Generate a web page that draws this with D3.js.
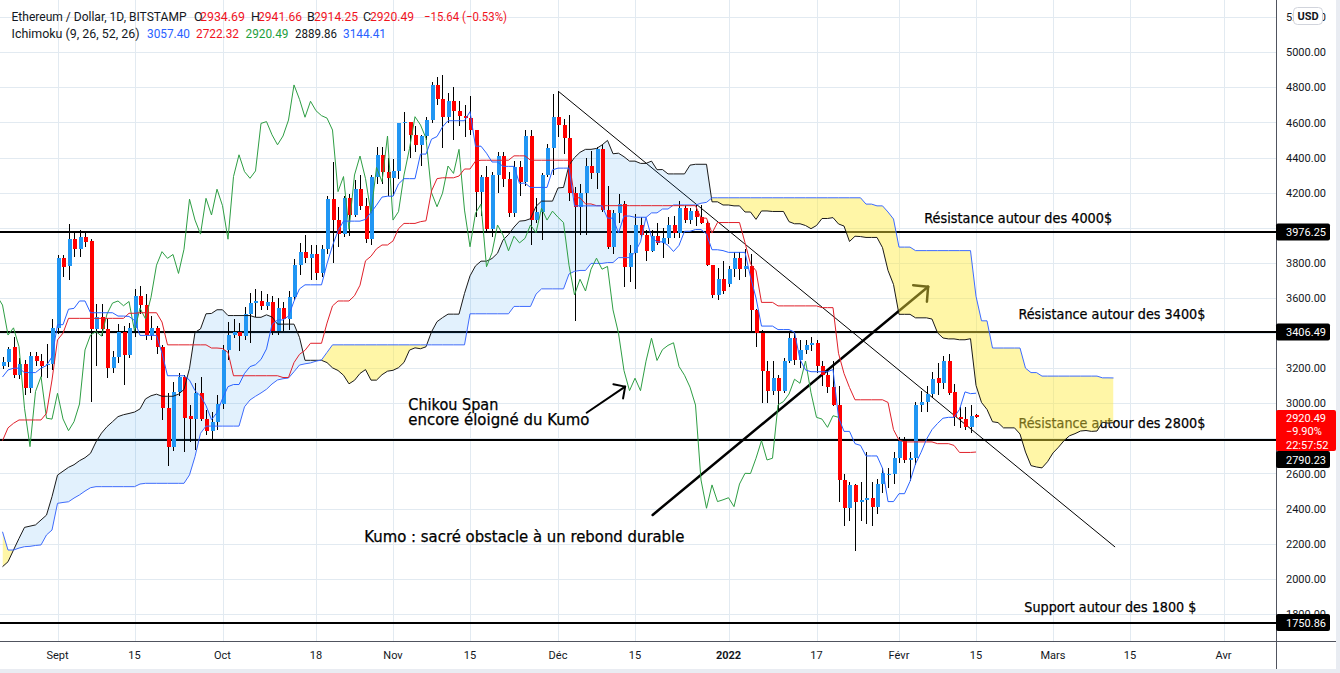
<!DOCTYPE html>
<html>
<head>
<meta charset="UTF-8">
<title>Ethereum / Dollar - Ichimoku</title>
<script src="https://cdn.jsdelivr.net/npm/d3@7"></script>
<style>
  body { margin: 0; background: #fff; }
  svg { display: block; }
  .ax { font-family: Roboto, "Liberation Sans", sans-serif; font-size: 11px; fill: #131722; }
  .hdr { font-family: Roboto, "Liberation Sans", sans-serif; font-size: 12.5px; }
  .note { font-family: "DejaVu Sans", sans-serif; fill: #000; stroke: #000; stroke-width: 0.25px; }
</style>
</head>
<body>
<svg id="chart" width="1340" height="673"></svg>
<script>
// ---------- data (daily, starting at firstDay) ----------
var firstDay = "2021-08-22";

var opens = [3215,3235,3318,3161,3224,3085,3268,3240,3222,3226,
  3430,3828,3784,3935,3880,3950,3925,3422,3494,3425,
  3200,3262,3405,3275,3427,3611,3560,3389,3430,3323,
  2972,2753,3067,3152,2925,2910,3057,2911,2844,2895,
  2996,3304,3389,3409,3383,3509,3571,3583,3556,3580,
  3412,3542,3481,3604,3787,3864,3826,3848,3740,3878,
  4163,4044,3964,4168,4073,4220,4126,3935,4292,4416,4320,
  4282,4324,4595,4605,4530,4473,4523,4614,4814,4732,
  4630,4721,4667,4639,4625,4557,4206,4292,3991,4301,
  4409,4280,4083,4344,4263,4523,4044,4092,4301,4452,
  4633,4586,4510,4200,4120,4197,4352,4310,4447,4101,
  3892,4083,4135,3778,3858,4016,3959,3869,3952,3914,
  3940,4016,3972,4111,4044,4095,4060,4030,3787,3618,3707,
  3680,3764,3827,3764,3780,3532,3399,3186,3072,3143,
  3072,3240,3371,3244,3306,3330,3345,3210,3160,3092,
  2990,2563,2402,2535,2440,2450,2462,2411,2540,2590,2600,
  2687,2787,2677,2687,2991,3010,3053,3146,3114,3241,
  3066,2920,2910,2863,2934.69];

var highs = [3265,3323,3380,3258,3247,3290,3290,3282,3340,3480,
  3846,3846,4022,3975,3985,3980,3935,3566,3566,3480,
  3300,3450,3440,3460,3650,3670,3620,3500,3440,3330,
  3057,3120,3170,3160,2990,3116,3150,2960,2950,3050,
  3330,3465,3480,3460,3550,3628,3650,3640,3620,3610,
  3600,3580,3640,3820,3914,3960,3900,3900,3900,4180,
  4377,4120,4180,4190,4270,4300,4170,4300,4460,4460,4400,
  4390,4600,4660,4605,4580,4530,4630,4830,4860,4871,
  4770,4800,4720,4700,4750,4557,4300,4350,4320,4430,
  4430,4320,4380,4380,4560,4560,4170,4310,4480,4760,
  4780,4620,4640,4230,4250,4400,4440,4460,4470,4240,
  4100,4190,4150,3900,4080,4060,3990,3990,4030,4000,
  4060,4070,4150,4130,4110,4130,4130,4040,3790,3770,3810,
  3780,3860,3860,3880,3850,3540,3420,3240,3240,3160,
  3260,3400,3400,3360,3360,3380,3360,3240,3190,3240,
  3100,2600,2550,2540,2550,2720,2550,2570,2630,2630,2720,
  2810,2810,2720,3010,3070,3100,3180,3230,3270,3281,
  3110,2980,2980,2990,2941.66];

var lows = [3195,3208,3144,3138,3050,3060,3210,3150,3144,3190,
  3395,3720,3703,3833,3833,3890,3009,3214,3383,3144,
  3170,3230,3104,3260,3380,3510,3360,3360,3280,2905,
  2644,2730,3040,2724,2780,2734,2900,2820,2790,2850,
  2970,3247,3370,3300,3360,3344,3490,3530,3530,3390,
  3390,3410,3420,3590,3730,3800,3700,3700,3720,3850,
  3798,3890,3950,3955,4060,4100,3915,3900,4250,4250,4180,
  4180,4280,4440,4400,4430,4350,4500,4600,4700,4454,
  4600,4500,4580,4520,4530,4060,4070,3980,3950,4200,
  4230,4060,4060,4180,4240,3900,4030,3930,4290,4300,
  4520,4420,4150,3471,3960,3960,4280,4220,4090,3880,
  3850,4030,3665,3690,3650,3940,3810,3860,3900,3830,
  3910,3940,3940,4030,4020,4010,4020,3780,3600,3590,3620,
  3660,3720,3700,3720,3400,3320,3000,3000,3050,2960,
  3060,3230,3220,3200,3280,3300,3170,3100,3060,2985,
  2440,2300,2330,2160,2330,2310,2300,2370,2490,2520,2540,
  2660,2660,2560,2650,2950,2950,3030,3050,3080,3050,
  2870,2860,2850,2830,2914.25];

var closes = [3238,3308,3161,3224,3085,3270,3240,3215,3226,3430,
  3828,3778,3935,3878,3950,3921,3422,3494,3425,3200,
  3262,3405,3275,3427,3611,3560,3389,3430,3323,2972,
  2753,3067,3152,2915,2910,3057,2911,2844,2895,2996,
  3304,3389,3409,3383,3509,3571,3583,3556,3580,3412,
  3542,3481,3604,3787,3864,3826,3848,3740,3878,4163,
  4044,3964,4168,4073,4220,4126,3935,4292,4416,4320,4282,
  4324,4595,4605,4530,4473,4523,4614,4814,4732,4630,
  4721,4667,4639,4625,4557,4206,4292,3991,4301,4409,
  4280,4083,4344,4263,4523,4044,4092,4301,4452,4633,
  4586,4510,4200,4120,4197,4352,4310,4447,4101,3892,
  4083,4135,3778,3858,4016,3959,3869,3952,3914,3940,
  4016,3972,4111,4044,4095,4060,4030,3787,3618,3707,3640,
  3764,3827,3764,3780,3532,3399,3186,3072,3143,3072,
  3240,3371,3244,3306,3330,3345,3210,3160,3092,2990,
  2563,2402,2535,2440,2450,2462,2411,2540,2601,2600,2687,
  2787,2677,2687,2991,3010,3053,3137,3114,3241,3060,
  2920,2910,2863,2929,2920.49];

// Ichimoku conversion (tenkan) and base (kijun) lines, same days as the candles
var tenkan = [3150,3190,3200,3200,3175,3175,3175,3200,3215,3265,
  3448,3448,3536,3541,3583,3583,3516,3516,3516,3516,
  3516,3497,3497,3495,3472,3387,3387,3387,3387,3287,
  3157,3157,3157,3157,3132,3072,3042,2987,2907,2947,
  3027,3095,3107,3107,3170,3209,3220,3250,3310,3449,
  3475,3475,3497,3582,3652,3675,3675,3675,3675,3795,
  3898,3983,4038,4038,4038,4038,4048,4087,4129,4175,
  4180,4180,4250,4280,4280,4280,4420,4420,4505,4520,
  4575,4610,4610,4610,4610,4662,4465,4465,4425,4375,
  4375,4350,4350,4350,4253,4255,4230,4230,4230,4230,
  4330,4340,4340,4340,4125,4125,4125,4125,4125,4125,
  4055,4055,3970,4067,4067,4060,4060,4060,3945,3920,
  3920,3900,3865,3900,3980,3980,3990,3990,3965,3875,
  3875,3870,3860,3860,3860,3860,3720,3600,3440,3440,
  3440,3420,3420,3420,3405,3250,3190,3180,3180,3180,
  3180,3192,2920,2840,2840,2770,2760,2700,2700,2700,
  2630,2440,2440,2485,2485,2555,2655,2720,2795,2850,
  2885,2915,2920,2920,2965,3065,3055,3057.40];

var kijun = [2787,2860,2886,2905,2905,2905,2905,2905,2943,3133,
  3361,3400,3484,3484,3484,3484,3484,3484,3484,3484,
  3484,3484,3484,3513,3513,3516,3516,3516,3516,3463,
  3333,3333,3333,3333,3333,3333,3333,3333,3315,3315,
  3312,3290,3157,3157,3157,3157,3157,3157,3157,3157,
  3157,3147,3147,3232,3279,3302,3342,3342,3342,3457,
  3555,3583,3583,3583,3613,3673,3812,3838,3880,3902,
  3902,3925,3995,4025,4025,4025,4035,4040,4210,4280,
  4285,4285,4285,4295,4335,4335,4380,4385,4385,4385,
  4385,4385,4385,4410,4410,4410,4385,4385,4385,4385,
  4385,4385,4385,4385,4171,4171,4136,4136,4126,4126,
  4126,4126,4126,4126,4126,4126,4126,4126,4126,4126,
  4126,4126,4126,4126,4126,4126,4126,4055,4055,3970,
  4030,4030,4030,4030,4030,3915,3795,3755,3575,3575,
  3575,3555,3555,3555,3555,3555,3555,3555,3555,3545,
  3545,3545,3285,3170,3090,3020,3020,3020,3020,3020,
  3020,3005,2850,2790,2780,2780,2780,2780,2780,2780,
  2770,2770,2770,2760,2720,2720,2720,2722.32];

// leading spans (kumo), from firstDay to 25 days past the last candle
var spanA = [2069,2097,2164,2230,2293,2300,2307,2335,2363,2468,
  2591,2613,2635,2650,2673,2690,2715,2780,2830,2867,
  2895,2924,2935,2942,2950,2968,3025,3043,3052,3040,
  3040,3040,3052,3079,3199,3404,3424,3510,3512,3533,
  3533,3500,3500,3500,3500,3500,3490,3490,3504,3492,
  3451,3451,3451,3451,3375,3245,3245,3245,3245,3232,
  3202,3187,3160,3111,3131,3170,3192,3132,3132,3163,
  3183,3188,3203,3233,3303,3316,3311,3322,3407,3465,
  3488,3508,3508,3508,3626,3726,3783,3810,3810,3825,
  3855,3930,3962,4004,4038,4041,4052,4122,4152,4152,
  4152,4227,4230,4357,4400,4430,4447,4447,4452,4472,
  4498,4422,4425,4405,4380,4380,4367,4367,4380,4331,
  4332,4307,4307,4307,4307,4357,4362,4362,4362,4148,
  4148,4130,4130,4125,4125,4090,4090,4048,4096,4096,
  4093,4093,4093,4035,4023,4023,4013,3995,4013,4053,
  4053,4058,4022,4010,3922,3952,3950,3945,3945,3945,
  3887,3757,3677,3507,3507,3507,3487,3487,3487,3480,
  3402,3372,3367,3367,3362,3362,3368,3102,3005,2965,
  2895,2890,2860,2860,2860,2825,2722,2645,2637,2632,
  2667,2717,2750,2787,2815,2827,2842,2845,2840,2842,
  2892,2887,2889.86];

var spanB = [2268,2164,2164,2175,2183,2185,2190,2193,2250,2278,
  2430,2435,2439,2460,2478,2500,2519,2525,2525,2525,
  2525,2525,2525,2525,2525,2540,2544,2544,2544,2544,
  2544,2544,2544,2544,2592,2696,2829,2870,2870,2870,
  2870,2870,2870,2870,2980,3019,3040,3059,3080,3110,
  3133,3140,3144,3180,3218,3225,3230,3240,3247,3290,
  3333,3333,3333,3333,3333,3333,3333,3333,3333,3333,
  3333,3333,3333,3333,3333,3333,3333,3333,3333,3333,
  3333,3333,3333,3333,3333,3510,3510,3510,3510,3510,
  3510,3510,3510,3552,3552,3552,3552,3622,3652,3652,
  3652,3652,3652,3737,3752,3757,3757,3797,3797,3797,
  3802,3802,3830,3830,3830,3860,3920,4059,4085,4085,
  4107,4107,4130,4130,4130,4130,4130,4140,4145,4171,
  4171,4171,4171,4171,4171,4171,4171,4171,4171,4171,
  4171,4171,4171,4171,4171,4171,4171,4171,4171,4171,
  4171,4171,4171,4171,4171,4171,4171,4135,4135,4125,
  4125,4090,4050,3890,3890,3890,3870,3870,3870,3870,
  3870,3870,3870,3870,3870,3870,3870,3610,3470,3470,
  3315,3315,3315,3315,3315,3315,3200,3175,3175,3155,
  3155,3155,3155,3155,3155,3155,3155,3155,3155,3155,
  3145,3145,3144.41];

var lagDays = 25;                     // chikou span is drawn back this many days
var levels = [3976.25, 3406.49, 2790.23, 1750.86];
var priceTicks = [1800,2000,2200,2400,2600,2800,3000,3200,3400,3600,3800,4000,4200,4400,4600,4800,5000,5200];
var timeTicks = ["2021-09-01","2021-09-15","2021-10-01","2021-10-18","2021-11-01","2021-11-15",
  "2021-12-01","2021-12-15","2022-01-01","2022-01-17","2022-02-01","2022-02-15",
  "2022-03-01","2022-03-15","2022-04-01"];
var timeLabels = ["Sept","15","Oct","18","Nov","15","Déc","15","2022","17","Févr","15","Mars","15","Avr"];

// ---------- setup ----------
var W = 1340, H = 673, plotR = 1276, plotB = 641;
var DAY = 864e5;
var iso = d3.isoParse;
var t0 = iso(firstDay);
function dayAt(i) { return new Date(+t0 + i * DAY); }

var x = d3.scaleUtc().domain([iso("2021-09-01"), iso("2022-04-01")]).range([57.5, 1223.5]);
var y = d3.scaleLinear().domain([2000, 5000]).range([578.8, 52.3]);

var candles = opens.map(function(o, i) {
  return {date: dayAt(i), o: o, h: highs[i], l: lows[i], c: closes[i]};
});
var cloud = spanA.map(function(a, i) { return {date: dayAt(i), a: a, b: spanB[i]}; });
function series(arr, shift) {
  return arr.map(function(v, i) { return {date: dayAt(i + (shift || 0)), v: v}; });
}

var svg = d3.select("#chart");
svg.append("rect").attr("width", W).attr("height", H).attr("fill", "#fff");
svg.append("rect").attr("x", 1336).attr("width", 4).attr("height", H).attr("fill", "#e9ecf2");
svg.append("rect").attr("y", 669).attr("width", W).attr("height", 4).attr("fill", "#e9ecf2");

var defs = svg.append("defs");
defs.append("clipPath").attr("id", "plot").append("rect").attr("width", plotR).attr("height", plotB);

var plot = svg.append("g").attr("clip-path", "url(#plot)");

// grid
var gridColor = "#e2eaf1";
plot.append("g").selectAll("line").data(priceTicks).join("line")
  .attr("x1", 0).attr("x2", plotR)
  .attr("y1", function(d) { return Math.round(y(d)) + 0.5; })
  .attr("y2", function(d) { return Math.round(y(d)) + 0.5; })
  .attr("stroke", gridColor);
plot.append("g").selectAll("line").data(timeTicks).join("line")
  .attr("x1", function(d) { return Math.round(x(iso(d))) + 0.5; })
  .attr("x2", function(d) { return Math.round(x(iso(d))) + 0.5; })
  .attr("y1", 0).attr("y2", plotB)
  .attr("stroke", gridColor);

// horizontal levels
plot.append("g").selectAll("line").data(levels).join("line")
  .attr("x1", 0).attr("x2", plotR)
  .attr("y1", function(d) { return Math.round(y(d)); })
  .attr("y2", function(d) { return Math.round(y(d)); })
  .attr("stroke", "#000").attr("stroke-width", 2);

// drawings
var draw = plot.append("g");
function pt(date, price) { return [x(iso(date)), y(price)]; }
function arrow(a, b, w, head) {
  draw.append("line").attr("x1", a[0]).attr("y1", a[1]).attr("x2", b[0]).attr("y2", b[1])
    .attr("stroke", "#000").attr("stroke-width", w).attr("stroke-linecap", "round");
  var ang = Math.atan2(a[1] - b[1], a[0] - b[0]);
  [-0.8, 0.8].forEach(function(s) {
    draw.append("line").attr("x1", b[0]).attr("y1", b[1])
      .attr("x2", b[0] + head * Math.cos(ang + s)).attr("y2", b[1] + head * Math.sin(ang + s))
      .attr("stroke", "#000").attr("stroke-width", w).attr("stroke-linecap", "round");
  });
}
var tA = pt("2021-12-01T05:00Z", 4774), tB = pt("2022-03-12T07:00Z", 2181);
draw.append("line").attr("x1", tA[0]).attr("y1", tA[1]).attr("x2", tB[0]).attr("y2", tB[1])
  .attr("stroke", "#000").attr("stroke-width", 1);
arrow(pt("2021-12-18T05:00Z", 2364), pt("2022-02-06T07:00Z", 3664), 2.5, 15);
arrow(pt("2021-12-06T05:00Z", 2946), pt("2021-12-13T05:00Z", 3095), 2, 12);

var notes = [
  {t: "Résistance autour des 4000$", d: "2022-02-05T14:00Z", p: 4029, s: 14, w: 188},
  {t: "Résistance autour des 3400$", d: "2022-02-22T17:00Z", p: 3480, s: 14, w: 187},
  {t: "Résistance autour des 2800$", d: "2022-02-22T17:00Z", p: 2857, s: 14, w: 187},
  {t: "Support autour des 1800 $", d: "2022-02-23T19:00Z", p: 1812, s: 14, w: 172},
  {t: "Chikou Span", d: "2021-11-03T19:00Z", p: 2962, s: 15, w: 90},
  {t: "encore éloigné du Kumo", d: "2021-11-03T19:00Z", p: 2876, s: 15, w: 181},
  {t: "Kumo : sacré obstacle à un rebond durable", d: "2021-10-26T19:00Z", p: 2211, s: 15, w: 320}
];
draw.selectAll("text").data(notes).join("text")
  .attr("class", "note")
  .attr("x", function(d) { return x(iso(d.d)); })
  .attr("y", function(d) { return y(d.p); })
  .attr("font-size", function(d) { return d.s; })
  .attr("textLength", function(d) { return d.w; })
  .attr("lengthAdjust", "spacingAndGlyphs")
  .text(function(d) { return d.t; });

// kumo fill (blue when span A above span B, yellow otherwise)
var cx = function(d) { return x(d.date); };
defs.append("clipPath").attr("id", "aboveB").append("path")
  .attr("d", d3.area().x(cx).y0(0).y1(function(d) { return y(d.b); })(cloud));
defs.append("clipPath").attr("id", "belowB").append("path")
  .attr("d", d3.area().x(cx).y0(plotB).y1(function(d) { return y(d.b); })(cloud));
var kumo = d3.area().x(cx).y0(function(d) { return y(d.a); }).y1(function(d) { return y(d.b); });
plot.append("path").attr("d", kumo(cloud)).attr("clip-path", "url(#aboveB)")
  .attr("fill", "rgba(33,150,243,0.13)");
plot.append("path").attr("d", kumo(cloud)).attr("clip-path", "url(#belowB)")
  .attr("fill", "rgba(255,235,59,0.45)");

// candles
var cg = plot.append("g").attr("shape-rendering", "crispEdges");
cg.selectAll("line").data(candles).join("line")
  .attr("x1", function(d) { return Math.round(x(d.date)) + 0.5; })
  .attr("x2", function(d) { return Math.round(x(d.date)) + 0.5; })
  .attr("y1", function(d) { return y(d.h); })
  .attr("y2", function(d) { return y(d.l); })
  .attr("stroke", "#000");
cg.selectAll("rect").data(candles).join("rect")
  .attr("x", function(d) { return Math.round(x(d.date)) - 1.5; })
  .attr("width", 4)
  .attr("y", function(d) { return y(Math.max(d.o, d.c)); })
  .attr("height", function(d) { return Math.max(1, Math.abs(y(d.o) - y(d.c))); })
  .attr("fill", function(d) { return d.c >= d.o ? "#2196f3" : "#ff0000"; });

// ichimoku lines
var line = d3.line().x(function(d) { return x(d.date); }).y(function(d) { return y(d.v); });
var lagged = closes.map(function(c, i) { return {date: dayAt(i - lagDays), v: c}; }).slice(lagDays - 1);
[
  [series(spanA), "#1a1a1a"],
  [series(spanB), "#3d6bff"],
  [lagged, "#2e9e44"],
  [series(kijun), "#e0202a"],
  [series(tenkan), "#2962ff"]
].forEach(function(s) {
  plot.append("path").attr("d", line(s[0])).attr("fill", "none")
    .attr("stroke", s[1]).attr("stroke-width", 1);
});

// ---------- axes ----------
svg.append("rect").attr("x", plotR).attr("width", 1336 - plotR).attr("height", 669).attr("fill", "#fff");
svg.append("rect").attr("y", plotB).attr("width", 1336).attr("height", 669 - plotB).attr("fill", "#fff");
svg.append("line").attr("x1", plotR + 0.5).attr("x2", plotR + 0.5).attr("y1", 0).attr("y2", 669)
  .attr("stroke", "#50535e");
svg.append("line").attr("x1", 0).attr("x2", 1336).attr("y1", plotB + 0.5).attr("y2", plotB + 0.5)
  .attr("stroke", "#50535e");

// tick labels fully hidden behind the price boxes are not drawn
var shownTicks = priceTicks.filter(function(v) { return v !== 3400 && v !== 2800; });
svg.append("g").selectAll("text").data(shownTicks).join("text")
  .attr("class", "ax").attr("x", 1286).attr("y", function(d) { return y(d) + 4; })
  .text(function(d) { return d3.format(".2f")(d); });

svg.append("g").selectAll("text").data(timeTicks).join("text")
  .attr("class", "ax").attr("text-anchor", "middle")
  .attr("x", function(d) { return x(iso(d)); }).attr("y", 659)
  .attr("font-weight", function(d, i) { return timeLabels[i] === "2022" ? 700 : 400; })
  .text(function(d, i) { return timeLabels[i]; });

// price labels on the scale
var lab = svg.append("g");
var labelY = {3976.25: y(3976.25), 3406.49: y(3406.49), 2790.23: 459.5, 1750.86: y(1750.86)};
levels.forEach(function(v) {
  var cy = labelY[v];
  lab.append("rect").attr("x", plotR).attr("y", cy - 8.5).attr("width", 54).attr("height", 17)
    .attr("rx", 2).attr("fill", "#000");
  lab.append("text").attr("class", "ax").attr("x", 1286).attr("y", cy + 4)
    .style("fill", "#fff").text(d3.format(".2f")(v));
});
lab.append("rect").attr("x", plotR).attr("y", 410).attr("width", 60).attr("height", 41)
  .attr("rx", 2).attr("fill", "#ff0000");
[["2920.49", 421.5], ["\u22129.90%", 435], ["22:57:52", 448.5]].forEach(function(r) {
  lab.append("text").attr("class", "ax").attr("x", 1286).attr("y", r[1]).style("fill", "#fff").text(r[0]);
});
lab.append("rect").attr("x", 1293.5).attr("y", 7.5).attr("width", 29).attr("height", 17)
  .attr("rx", 4).attr("fill", "#fff").attr("stroke", "#d1d4dc");
lab.append("text").attr("class", "ax").attr("x", 1308).attr("y", 20).attr("text-anchor", "middle")
  .attr("font-weight", 700).text("USD");

// ---------- legend header ----------
var hdr = svg.append("g").attr("class", "hdr");
function ht(x0, yb, s, col, w) {
  var t = hdr.append("text").attr("x", x0).attr("y", yb).attr("fill", col).text(s);
  if (w) t.attr("textLength", w).attr("lengthAdjust", "spacingAndGlyphs");
}
var dark = "#131722", red = "#f0141e";
ht(11.5, 21, "Ethereum / Dollar, 1D, BITSTAMP", dark, 175);
ht(194, 21, "O", dark); ht(200, 21, "2934.69", red, 45);
ht(251, 21, "H", dark); ht(258, 21, "2941.66", red, 44);
ht(307, 21, "B", dark); ht(314, 21, "2914.25", red, 44);
ht(363, 21, "C", dark); ht(370, 21, "2920.49", red, 44);
ht(424, 21, "\u221215.64 (\u22120.53%)", red, 83);
ht(11.5, 37.5, "Ichimoku (9, 26, 52, 26)", dark, 128);
ht(147, 37.5, "3057.40", "#2962ff", 43);
ht(196, 37.5, "2722.32", red, 43);
ht(245.5, 37.5, "2920.49", "#1e9e3e", 43);
ht(295, 37.5, "2889.86", dark, 42);
ht(343, 37.5, "3144.41", "#2962ff", 43);
</script>
</body>
</html>
